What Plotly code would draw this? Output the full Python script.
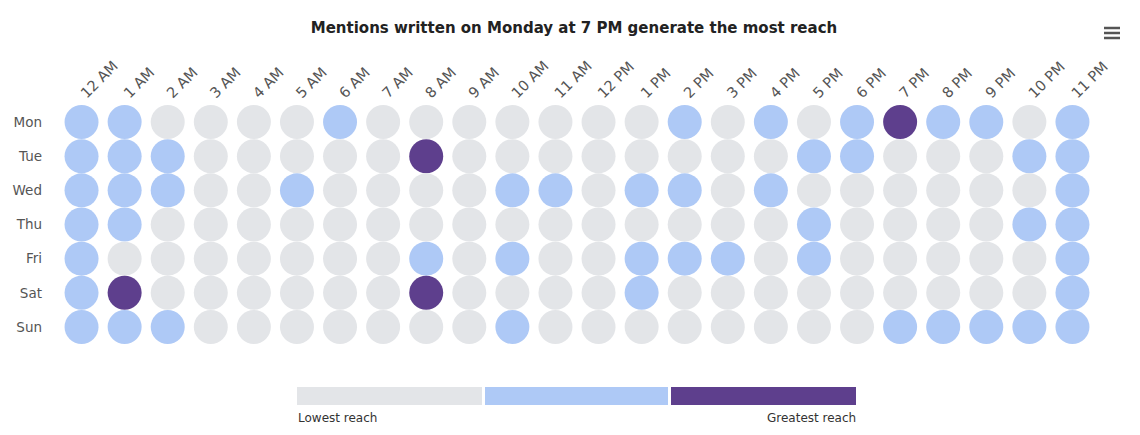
import plotly.graph_objects as go

# ---------------- data ----------------
days = ["Mon", "Tue", "Wed", "Thu", "Fri", "Sat", "Sun"]
hours = ["12 AM", "1 AM", "2 AM", "3 AM", "4 AM", "5 AM", "6 AM", "7 AM", "8 AM",
         "9 AM", "10 AM", "11 AM", "12 PM", "1 PM", "2 PM", "3 PM", "4 PM", "5 PM",
         "6 PM", "7 PM", "8 PM", "9 PM", "10 PM", "11 PM"]

# reach level per hour: 0 = lowest, 1 = medium, 2 = greatest
mon = [1, 1, 0, 0, 0, 0, 1, 0, 0, 0, 0, 0, 0, 0, 1, 0, 1, 0, 1, 2, 1, 1, 0, 1]
tue = [1, 1, 1, 0, 0, 0, 0, 0, 2, 0, 0, 0, 0, 0, 0, 0, 0, 1, 1, 0, 0, 0, 1, 1]
wed = [1, 1, 1, 0, 0, 1, 0, 0, 0, 0, 1, 1, 0, 1, 1, 0, 1, 0, 0, 0, 0, 0, 0, 1]
thu = [1, 1, 0, 0, 0, 0, 0, 0, 0, 0, 0, 0, 0, 0, 0, 0, 0, 1, 0, 0, 0, 0, 1, 1]
fri = [1, 0, 0, 0, 0, 0, 0, 0, 1, 0, 1, 0, 0, 1, 1, 1, 0, 1, 0, 0, 0, 0, 0, 1]
sat = [1, 2, 0, 0, 0, 0, 0, 0, 2, 0, 0, 0, 0, 1, 0, 0, 0, 0, 0, 0, 0, 0, 0, 1]
sun = [1, 1, 1, 0, 0, 0, 0, 0, 0, 0, 1, 0, 0, 0, 0, 0, 0, 0, 0, 1, 1, 1, 1, 1]

levels = [mon, tue, wed, thu, fri, sat, sun]
level_colors = ["#e3e5e8", "#aec9f6", "#5e3f8d"]
legend_labels = ["Lowest reach", "Greatest reach"]
title_text = "Mentions written on Monday at 7 PM generate the most reach"

# ---------------- figure ----------------
OFF = 8  # page body margin
W, H = 1140 - OFF, 435 - OFF
ML, MR, MT, MB = 60 - OFF, 46, 105 - OFF, 91
PW, PH = W - ML - MR, H - MT - MB


def px_x(p):
    return (p - OFF - ML) / PW


def px_y(p):
    return (H - MB - (p - OFF)) / PH


xs, ys, cs = [], [], []
for d, row in zip(days, levels):
    for h, lv in zip(hours, row):
        xs.append(h)
        ys.append(d)
        cs.append(level_colors[lv])

fig = go.Figure(go.Scatter(
    x=xs, y=ys, mode="markers",
    marker=dict(size=34, color=cs, line=dict(width=0)),
    hoverinfo="x+y",
))

font = "DejaVu Sans"

fig.update_layout(
    width=W, height=H,
    margin=dict(l=ML, r=MR, t=MT, b=MB, autoexpand=False),
    paper_bgcolor="white", plot_bgcolor="white",
    showlegend=False,
    font=dict(family=font, color="#555555", size=13),
    title=dict(text=title_text, x=0.5, xanchor="center", y=1 - (28 - OFF) / H, yanchor="middle",
               font=dict(family=font, size=15, color="#222222", weight="bold")),
    xaxis=dict(type="category", categoryorder="array", categoryarray=hours,
               side="top", tickangle=-45, showgrid=False, zeroline=False,
               showline=False, ticks="", range=[-0.5, 23.5], fixedrange=True,
               automargin=False, tickfont=dict(size=14.5, color="#555555")),
    yaxis=dict(type="category", categoryorder="array", categoryarray=days,
               autorange=False, range=[6.5, -0.5], showgrid=False, zeroline=False,
               showline=False, ticks="", ticklabelstandoff=17, fixedrange=True,
               automargin=False, tickfont=dict(size=13.5, color="#555555")),
)

# legend bars
seg_x = [(297, 482), (485, 668), (671, 856)]
for (x0, x1), c in zip(seg_x, level_colors):
    fig.add_shape(type="rect", xref="paper", yref="paper",
                  x0=px_x(x0), x1=px_x(x1), y0=px_y(405), y1=px_y(387),
                  fillcolor=c, line=dict(width=0), layer="above")

fig.add_annotation(text=legend_labels[0], xref="paper", yref="paper",
                   x=px_x(296), y=px_y(418), xanchor="left", yanchor="middle",
                   showarrow=False, font=dict(family=font, size=12, color="#333333"))
fig.add_annotation(text=legend_labels[1], xref="paper", yref="paper",
                   x=px_x(858), y=px_y(418), xanchor="right", yanchor="middle",
                   showarrow=False, font=dict(family=font, size=12, color="#333333"))

# hamburger menu icon
for yy in (28, 33, 38):
    fig.add_shape(type="line", xref="paper", yref="paper",
                  x0=px_x(1104), x1=px_x(1120), y0=px_y(yy), y1=px_y(yy),
                  line=dict(color="#555555", width=2.5))

fig.write_html("out.html", config={"displayModeBar": False})
